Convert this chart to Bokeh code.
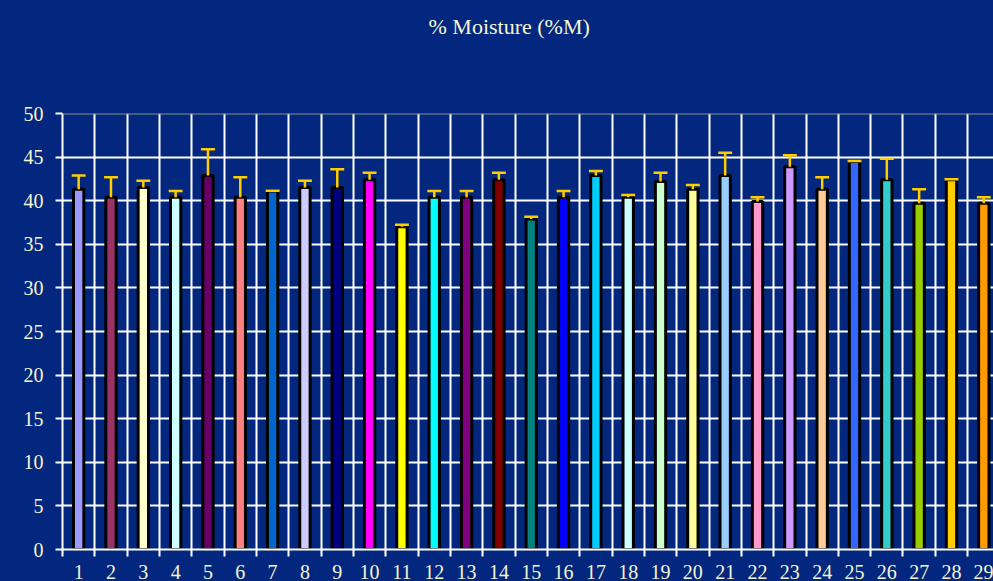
from bokeh.plotting import figure
from bokeh.models import FixedTicker, Span, Title
from bokeh.embed import file_html
from bokeh.resources import INLINE

# ---- data ----
categories = [str(i) for i in range(1, 30)]
moisture = [41.3, 40.4, 41.5, 40.4, 42.9, 40.4, 41.1, 41.5, 41.5, 42.4,
            37.0, 40.4, 40.4, 42.4, 37.9, 40.4, 42.9, 40.4, 42.2, 41.3,
            42.9, 39.9, 43.9, 41.3, 44.5, 42.4, 39.7, 42.4, 39.7]
error = [1.6, 2.3, 0.8, 0.7, 3.0, 2.3, 0.05, 0.8, 2.1, 0.8,
         0.25, 0.7, 0.7, 0.8, 0.25, 0.7, 0.5, 0.25, 1.0, 0.5,
         2.6, 0.5, 1.3, 1.4, 0.05, 2.4, 1.6, 0.05, 0.7]
colors = ["#9999FF", "#993366", "#FFFFCC", "#CCFFFF", "#660066", "#FF8080",
          "#0066CC", "#CCCCFF", "#000080", "#FF00FF", "#FFFF00", "#00FFFF",
          "#800080", "#800000", "#008080", "#0000FF", "#00CCFF", "#CCFFFF",
          "#CCFFCC", "#FFFF99", "#99CCFF", "#FF99CC", "#CC99FF", "#FFCC99",
          "#3366FF", "#33CCCC", "#99CC00", "#FFCC00", "#FF9900"]
y_ticks = [0, 5, 10, 15, 20, 25, 30, 35, 40, 45, 50]
title_text = "% Moisture (%M)"

BG = "#03277F"
TXT = "#F5F5D2"
FONT = "Liberation Serif"

xs = list(range(1, len(categories) + 1))
tops = [m + e for m, e in zip(moisture, error)]

p = figure(width=993, height=581, x_range=(0.5, 29.3), y_range=(0, 50),
           output_backend="svg", toolbar_location=None,
           background_fill_color=BG, border_fill_color=BG,
           min_border_left=62, min_border_right=0, min_border_top=113,
           min_border_bottom=31, outline_line_color=None)

# title (outermost) + spacer panel between title and frame
p.title.text = title_text
p.title.align = "left"
p.title.offset = 366
p.title.vertical_align = "top"
p.title.standoff = 26
p.title.text_font = FONT
p.title.text_font_size = "22px"
p.title.text_font_style = "normal"
p.title.text_color = TXT
p.add_layout(Title(text=" ", text_font=FONT, text_font_size="22px",
                   standoff=33, text_color=BG), "above")

# grid
p.ygrid.ticker = FixedTicker(ticks=y_ticks[1:-1])
p.ygrid.grid_line_color = "white"
p.ygrid.grid_line_width = 2
p.xgrid.ticker = FixedTicker(ticks=[x + 0.5 for x in xs])
p.xgrid.grid_line_color = "white"
p.xgrid.grid_line_width = 2
p.add_layout(Span(location=50, dimension="width", line_color="#8C8C8C", line_width=2))

# bars
p.vbar(x=xs, top=moisture, width=0.32, bottom=0, fill_color=colors,
       line_color="black", line_width=3)
# error bars
p.segment(x0=xs, y0=moisture, x1=xs, y1=tops, line_color="#FFCC00", line_width=2.5)
p.segment(x0=[x - 0.215 for x in xs], y0=tops, x1=[x + 0.215 for x in xs], y1=tops,
          line_color="#FFCC00", line_width=2.5)

# y axis
ya = p.yaxis[0]
ya.ticker = FixedTicker(ticks=y_ticks)
ya.axis_line_color = "white"
ya.axis_line_width = 2
ya.major_tick_line_color = "white"
ya.major_tick_line_width = 2
ya.major_tick_out = 7
ya.major_tick_in = 0
ya.minor_tick_line_color = None
ya.major_label_standoff = 12
ya.major_label_text_font = FONT
ya.major_label_text_font_size = "20px"
ya.major_label_text_color = TXT

# x axis
xa = p.xaxis[0]
xa.ticker = FixedTicker(ticks=xs, minor_ticks=[x - 0.5 for x in xs] + [xs[-1] + 0.5])
xa.major_label_overrides = {x: c for x, c in zip(xs, categories)}
xa.axis_line_color = "white"
xa.axis_line_width = 2
xa.major_tick_line_color = None
xa.major_tick_out = 0
xa.major_tick_in = 0
xa.minor_tick_line_color = "white"
xa.minor_tick_line_width = 2
xa.minor_tick_out = 7
xa.minor_tick_in = 0
xa.major_label_standoff = 8
xa.major_label_text_font = FONT
xa.major_label_text_font_size = "20px"
xa.major_label_text_color = TXT

html = file_html(p, INLINE)
html = html.replace("</head>", "<style>html,body{background:%s;}</style></head>" % BG, 1)
open("out.html", "w").write(html)
